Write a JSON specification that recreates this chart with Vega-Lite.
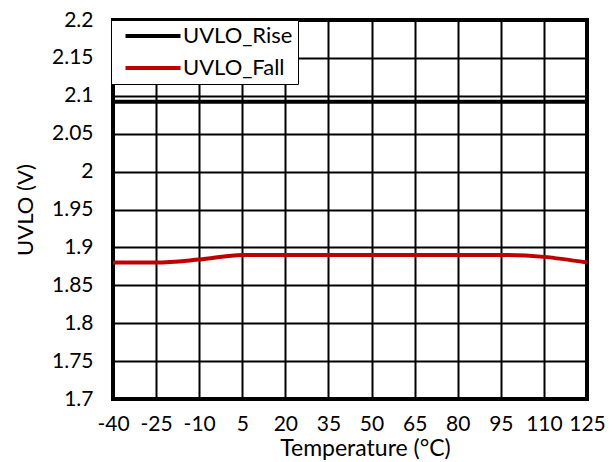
{
  "$schema": "https://vega.github.io/schema/vega-lite/v6.json",
  "width": 474,
  "height": 379,
  "autosize": "none",
  "padding": {"left": 113, "top": 20, "right": 28, "bottom": 63},
  "background": "white",
  "config": {
    "font": "Lato",
    "view": {"stroke": "black", "strokeWidth": 4},
    "legend": {"strokeColor": "black", "fillColor": "white"},
    "axis": {
      "grid": true, "gridColor": "black", "gridWidth": 2, "gridOpacity": 1,
      "domain": false, "ticks": false,
      "labelFont": "Lato", "labelFontSize": 21, "labelColor": "black",
      "titleFont": "Lato", "titleFontSize": 23, "titleFontWeight": "normal", "titleColor": "black"
    }
  },
  "data": {
    "values": [
      {"t": -40, "v": 2.092, "s": "UVLO_Rise"},
      {"t": -25, "v": 2.092, "s": "UVLO_Rise"},
      {"t": -10, "v": 2.092, "s": "UVLO_Rise"},
      {"t": 5, "v": 2.092, "s": "UVLO_Rise"},
      {"t": 20, "v": 2.092, "s": "UVLO_Rise"},
      {"t": 35, "v": 2.092, "s": "UVLO_Rise"},
      {"t": 50, "v": 2.092, "s": "UVLO_Rise"},
      {"t": 65, "v": 2.092, "s": "UVLO_Rise"},
      {"t": 80, "v": 2.092, "s": "UVLO_Rise"},
      {"t": 95, "v": 2.092, "s": "UVLO_Rise"},
      {"t": 110, "v": 2.092, "s": "UVLO_Rise"},
      {"t": 125, "v": 2.092, "s": "UVLO_Rise"},
      {"t": -40, "v": 1.880, "s": "UVLO_Fall"},
      {"t": -25, "v": 1.880, "s": "UVLO_Fall"},
      {"t": -10, "v": 1.884, "s": "UVLO_Fall"},
      {"t": 5, "v": 1.890, "s": "UVLO_Fall"},
      {"t": 20, "v": 1.890, "s": "UVLO_Fall"},
      {"t": 35, "v": 1.890, "s": "UVLO_Fall"},
      {"t": 50, "v": 1.890, "s": "UVLO_Fall"},
      {"t": 65, "v": 1.890, "s": "UVLO_Fall"},
      {"t": 80, "v": 1.890, "s": "UVLO_Fall"},
      {"t": 95, "v": 1.890, "s": "UVLO_Fall"},
      {"t": 110, "v": 1.8875, "s": "UVLO_Fall"},
      {"t": 125, "v": 1.880, "s": "UVLO_Fall"}
    ]
  },
  "mark": {"type": "line", "strokeWidth": 4, "interpolate": "monotone", "clip": true},
  "encoding": {
    "x": {
      "field": "t", "type": "quantitative",
      "scale": {"domain": [-40, 125], "nice": false, "zero": false},
      "axis": {"values": [-40, -25, -10, 5, 20, 35, 50, 65, 80, 95, 110, 125], "labelExpr": "'' + datum.value", "title": "Temperature (°C)", "labelPadding": 14, "titlePadding": 3, "titleX": 252, "labelFlush": false, "labelOverlap": false}
    },
    "y": {
      "field": "v", "type": "quantitative",
      "scale": {"domain": [1.7, 2.2], "nice": false, "zero": false},
      "axis": {"values": [1.7, 1.75, 1.8, 1.85, 1.9, 1.95, 2, 2.05, 2.1, 2.15, 2.2], "format": "~g", "title": "UVLO (V)", "titleFontSize": 22, "labelPadding": 20, "titlePadding": 14, "labelOverlap": false}
    },
    "color": {
      "field": "s", "type": "nominal", "sort": ["UVLO_Rise", "UVLO_Fall"],
      "scale": {"domain": ["UVLO_Rise", "UVLO_Fall"], "range": ["black", "#C00000"]},
      "legend": {
        "title": null, "orient": "none", "legendX": -2, "legendY": 0,
        "padding": 5, "symbolOffset": 26, "symbolType": "M-5,0H5", "symbolSize": 121,
        "symbolStrokeWidth": 4, "labelFontSize": 22, "labelFont": "Lato", "labelColor": "black",
        "labelOffset": 19, "rowPadding": 10
      }
    }
  }
}
